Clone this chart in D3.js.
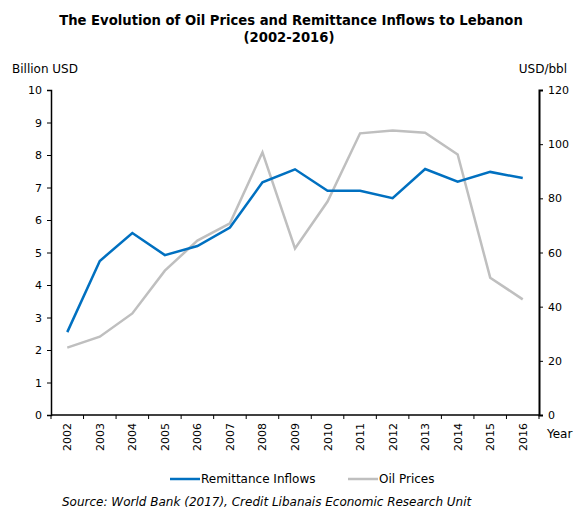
<!DOCTYPE html>
<html>
<head>
<meta charset="utf-8">
<script src="https://cdn.jsdelivr.net/npm/d3@7"></script>
<style>
  body { margin: 0; background: #fff; }
  text { font-family: "DejaVu Sans", Verdana, sans-serif; fill: #000; }
</style>
</head>
<body>
<div id="graph"></div>
<script>
// data
var years = ["2002","2003","2004","2005","2006","2007","2008","2009","2010","2011","2012","2013","2014","2015","2016"];
var remittances = [2.55, 4.74, 5.6, 4.92, 5.2, 5.77, 7.16, 7.56, 6.9, 6.9, 6.67, 7.57, 7.18, 7.48, 7.29];
var oilPrices = [24.9, 28.9, 37.5, 53.3, 64.4, 70.8, 97.0, 61.5, 78.8, 104.0, 105.0, 104.2, 96.2, 50.7, 42.7];
var leftTicks = [0,1,2,3,4,5,6,7,8,9,10];
var rightTicks = [0,20,40,60,80,100,120];

// measurements
var width = 574, height = 508;
var margin = { top: 90, right: 35, bottom: 93, left: 51 };
var chartWidth = width - margin.left - margin.right;
var chartHeight = height - margin.top - margin.bottom;

var svg = d3.select("#graph").append("svg")
    .attr("width", width)
    .attr("height", height);

// title
svg.append("text").attr("x", 291).attr("y", 25)
    .attr("text-anchor", "middle").style("font-weight", "bold").style("font-size", "13.2px")
    .text("The Evolution of Oil Prices and Remittance Inflows to Lebanon");
svg.append("text").attr("x", 289).attr("y", 42)
    .attr("text-anchor", "middle").style("font-weight", "bold").style("font-size", "13.2px")
    .text("(2002-2016)");

// axis titles
svg.append("text").attr("x", 12).attr("y", 73).style("font-size", "12px").text("Billion USD");
svg.append("text").attr("x", 567).attr("y", 73).attr("text-anchor", "end").style("font-size", "12px").text("USD/bbl");
svg.append("text").attr("x", 547).attr("y", 438).style("font-size", "12px").text("Year");

var plot = svg.append("g")
    .attr("transform", "translate(" + margin.left + "," + margin.top + ")");

var x = d3.scaleBand().domain(years).range([0, chartWidth]);
var yLeft = d3.scaleLinear().domain([0, 10]).range([chartHeight, 0]);
var yRight = d3.scaleLinear().domain([0, 120]).range([chartHeight, 0]);

// x axis with ticks at band edges
var xAxis = plot.append("g")
    .attr("transform", "translate(0," + chartHeight + ")");
xAxis.append("line").attr("x1", 0).attr("x2", chartWidth)
    .attr("stroke", "#000").attr("stroke-width", 1.5);
xAxis.selectAll(".tick")
    .data(d3.range(years.length + 1))
    .enter().append("line")
    .attr("x1", function(i) { return i * x.step(); })
    .attr("x2", function(i) { return i * x.step(); })
    .attr("y1", 0).attr("y2", 4)
    .attr("stroke", "#000");
xAxis.selectAll(".lbl")
    .data(years)
    .enter().append("text")
    .attr("transform", function(d) {
        return "translate(" + (x(d) + x.bandwidth() / 2 + 4) + ",8) rotate(-90)";
    })
    .attr("text-anchor", "end")
    .style("font-size", "11px")
    .text(function(d) { return d; });

// left axis
var yAxisL = d3.axisLeft(yLeft).tickValues(leftTicks).tickSize(4).tickPadding(5);
plot.append("g").call(yAxisL)
    .call(function(g) {
        g.select(".domain").attr("stroke-width", 1.5);
        g.selectAll("text").style("font-size", "11px").style("font-family", "DejaVu Sans, Verdana, sans-serif");
    });

// right axis
var yAxisR = d3.axisRight(yRight).tickValues(rightTicks).tickSize(4).tickPadding(5);
plot.append("g").attr("transform", "translate(" + chartWidth + ",0)").call(yAxisR)
    .call(function(g) {
        g.select(".domain").attr("stroke-width", 2);
        g.selectAll("text").style("font-size", "11px").style("font-family", "DejaVu Sans, Verdana, sans-serif");
    });

// lines
var oilLine = d3.line()
    .x(function(d, i) { return x(years[i]) + x.bandwidth() / 2; })
    .y(function(d) { return yRight(d); });
var remLine = d3.line()
    .x(function(d, i) { return x(years[i]) + x.bandwidth() / 2; })
    .y(function(d) { return yLeft(d); });

plot.append("path").datum(oilPrices)
    .attr("fill", "none").attr("stroke", "#BFBFBF").attr("stroke-width", 2.5)
    .attr("d", oilLine);
plot.append("path").datum(remittances)
    .attr("fill", "none").attr("stroke", "#0070C0").attr("stroke-width", 2.5)
    .attr("d", remLine);

// legend
var legend = svg.append("g");
legend.append("line").attr("x1", 170).attr("x2", 200).attr("y1", 479).attr("y2", 479)
    .attr("stroke", "#0070C0").attr("stroke-width", 2.5);
legend.append("text").attr("x", 201).attr("y", 483).style("font-size", "12px").text("Remittance Inflows");
legend.append("line").attr("x1", 348).attr("x2", 378).attr("y1", 479).attr("y2", 479)
    .attr("stroke", "#BFBFBF").attr("stroke-width", 2.5);
legend.append("text").attr("x", 379).attr("y", 483).style("font-size", "12px").text("Oil Prices");

// source
svg.append("text").attr("x", 62).attr("y", 506)
    .style("font-size", "12px").style("font-style", "italic")
    .text("Source: World Bank (2017), Credit Libanais Economic Research Unit");
</script>
</body>
</html>
